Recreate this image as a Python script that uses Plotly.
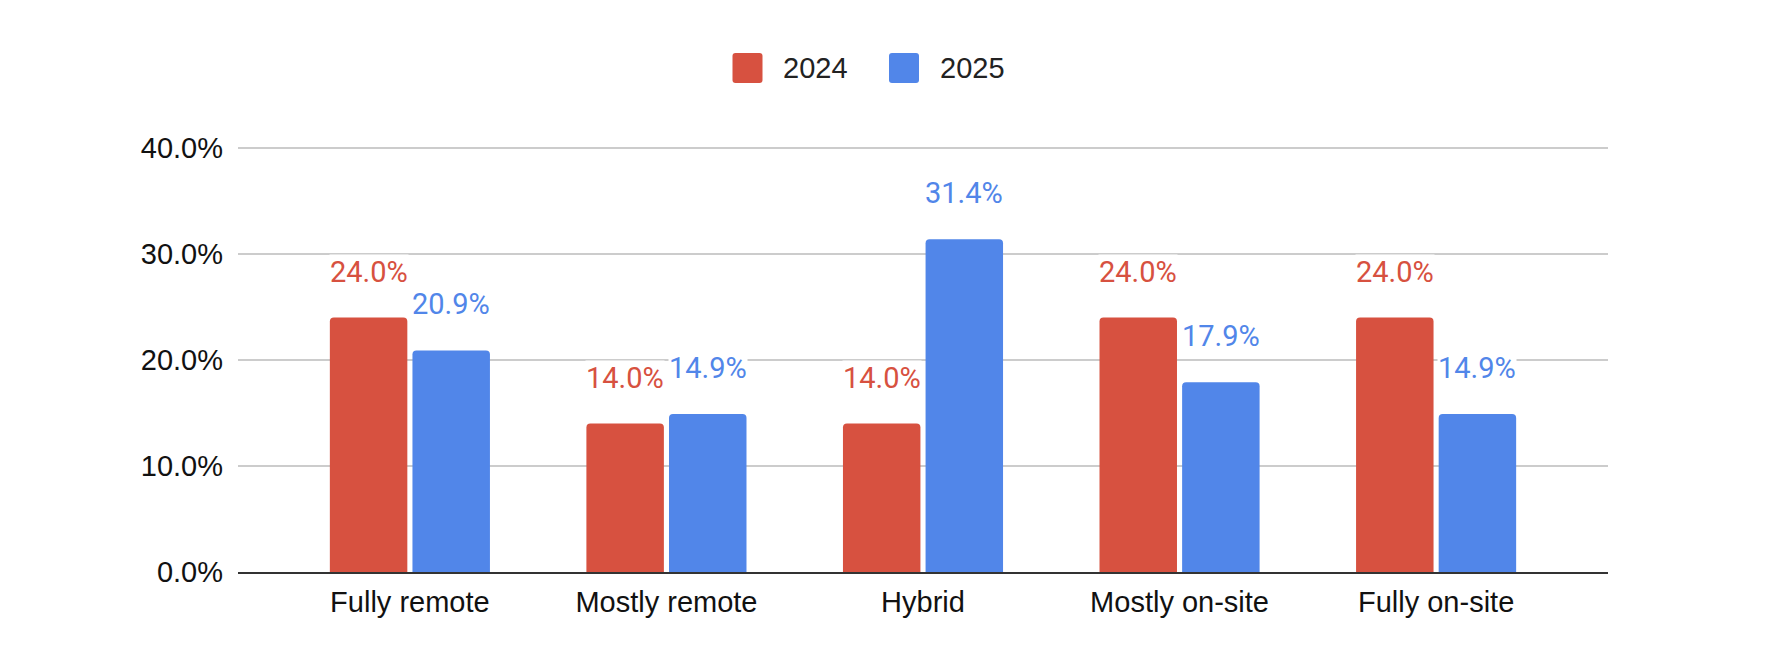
import plotly.graph_objects as go

categories = ["Fully remote", "Mostly remote", "Hybrid", "Mostly on-site", "Fully on-site"]
series_names = ["2024", "2025"]
values_2024 = [24.0, 14.0, 14.0, 24.0, 24.0]
values_2025 = [20.9, 14.9, 31.4, 17.9, 14.9]
y_ticks = [0, 10, 20, 30, 40]

RED = "#D75140"
BLUE = "#5186E9"
BAR_W = 0.302
GAP = 0.010

W, H = 1774, 646
ML, MT = 230, 138
PW, PH = 1370, 426
MR, MB = W - ML - PW, H - MT - PH
Y_TOP = 40 * PH / 424

fig = go.Figure()
series = [(series_names[0], values_2024, RED, -(BAR_W + GAP)),
          (series_names[1], values_2025, BLUE, GAP)]
for name, vals, col, off in series:
    fig.add_trace(go.Bar(
        name=name, x=categories, y=vals, marker=dict(color=col, cornerradius=4, line=dict(width=0)),
        width=[BAR_W] * len(vals), offset=[off] * len(vals), showlegend=False,
        hoverinfo="skip"))

annotations = []
for name, vals, col, off in series:
    for i, v in enumerate(vals):
        annotations.append(dict(
            x=i + off + BAR_W / 2, y=v, xref="x", yref="y",
            text=f"{v:.1f}%", showarrow=False, yanchor="middle", xanchor="center",
            yshift=46, bgcolor="white", borderpad=0,
            font=dict(family="Roboto", size=29, color=col)))

# manual legend (large rounded swatches), positions in page pixels
def px_x(p):
    return (p - 8 - ML) / PW
def px_y(p):
    return (MT + PH - (p - 8)) / PH

sq = "M -12 -15 L 12 -15 Q 15 -15 15 -12 L 15 12 Q 15 15 12 15 L -12 15 Q -15 15 -15 12 L -15 -12 Q -15 -15 -12 -15 Z"
shapes = []
leg_items = [(series_names[0], RED, 747.5, 781), (series_names[1], BLUE, 904, 938)]
for name, col, cx, tx in leg_items:
    shapes.append(dict(type="path", xref="paper", yref="paper", xsizemode="pixel", ysizemode="pixel",
                       xanchor=px_x(cx), yanchor=px_y(68), path=sq,
                       fillcolor=col, line=dict(width=0)))
    annotations.append(dict(x=px_x(tx), y=px_y(68), xref="paper", yref="paper", text=name,
                            showarrow=False, xanchor="left", yanchor="middle",
                            font=dict(family="Liberation Sans", size=29, color="#222222")))

fig.update_layout(
    width=W, height=H,
    margin=dict(l=ML, r=MR, t=MT, b=MB),
    paper_bgcolor="white", plot_bgcolor="white",
    barmode="overlay",
    annotations=annotations, shapes=shapes,
    font=dict(family="Liberation Sans", size=29, color="#111111"),
)
fig.update_xaxes(
    type="category", range=[-0.67, 4.67], showgrid=False,
    showline=True, linecolor="#333333", linewidth=2, ticks="",
    tickfont=dict(family="Liberation Sans", size=29, color="#111111"),
    ticklabelstandoff=3,
)
fig.update_yaxes(
    range=[0, Y_TOP], tickvals=y_ticks, ticktext=[f"{t:.1f}%" for t in y_ticks],
    showgrid=True, gridcolor="#CCCCCC", gridwidth=2, zeroline=False,
    showline=False, ticks="", ticklabelstandoff=14,
    tickfont=dict(family="Liberation Sans", size=29, color="#111111"),
)
fig.write_html("out.html")
